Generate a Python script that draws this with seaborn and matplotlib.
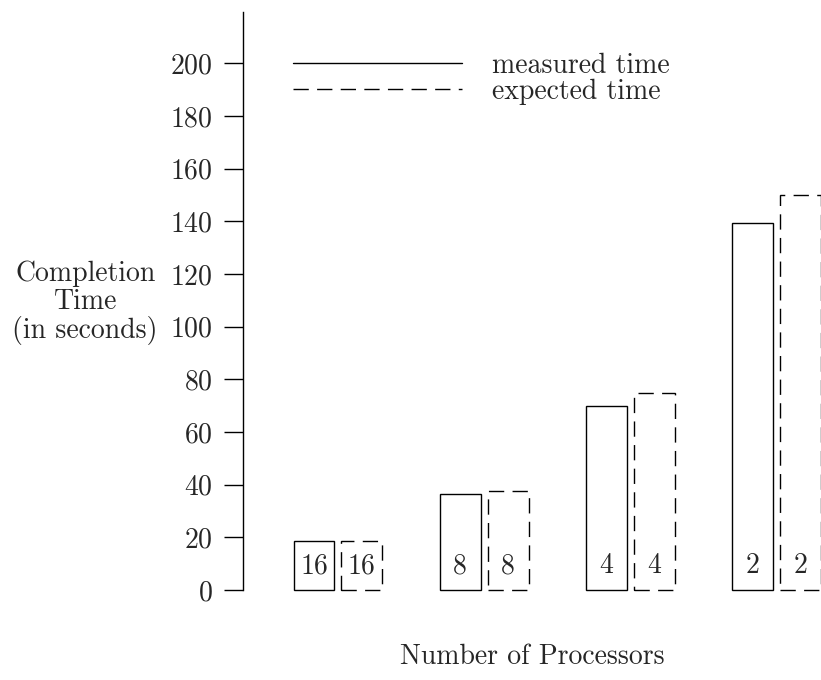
import matplotlib
matplotlib.use("Agg")
import matplotlib.pyplot as plt
import pandas as pd
import seaborn as sns
from matplotlib.lines import Line2D

# Data
processors = ["16", "8", "4", "2"]
measured_time = [18.5, 36.5, 70, 139.5]
expected_time = [18.5, 37.5, 75, 150]
series_names = ["measured time", "expected time"]

df = pd.DataFrame({
    "Processors": processors * 2,
    "Time": measured_time + expected_time,
    "Kind": [series_names[0]] * len(processors) + [series_names[1]] * len(processors),
})

sns.set_style("white")
plt.rcParams["font.family"] = ["cmr10", "DejaVu Serif"]
plt.rcParams["axes.formatter.use_mathtext"] = True

dash = (0, (11, 6))

fig = plt.figure(figsize=(8.21, 6.8), dpi=100)
ax = fig.add_axes([243 / 821, 1 - 590 / 680, 1 - 243 / 821, 578 / 680])

sns.barplot(data=df, x="Processors", y="Time", hue="Kind", order=processors,
            hue_order=series_names, palette=["black", "black"], fill=False,
            width=0.656, gap=0.146, linewidth=1, ax=ax, legend=False)

for bar in ax.containers[1]:
    bar.set_linestyle(dash)

# processor count written at the foot of each bar
for container in ax.containers:
    for p, lab in zip(container, processors):
        ax.text(p.get_x() + p.get_width() / 2, 9, lab, ha="center", va="center", fontsize=20)

for p in ax.patches:
    p.set_clip_on(False)

ax.set_xlim(-0.65, 3.305)
ax.set_ylim(0, 219.5)
ax.set_yticks(range(0, 201, 20))
ax.set_xticks([])
ax.tick_params(axis="y", direction="out", length=14, width=1, pad=8, labelsize=20, left=True, color="black")

for s in ["top", "right", "bottom"]:
    ax.spines[s].set_visible(False)
ax.spines["left"].set_color("black")
ax.spines["left"].set_linewidth(1)

ax.set_ylabel("Completion\nTime\n(in seconds)", rotation=0, fontsize=20, ha="center", va="center", linespacing=1.08)
ax.yaxis.set_label_coords(-0.273, 0.497)
ax.set_xlabel("Number of Processors", fontsize=20, va="center")
ax.xaxis.set_label_coords(0.5, -0.116)

handles = [Line2D([], [], color="black", lw=1),
           Line2D([], [], color="black", lw=1, linestyle=dash)]
ax.legend(handles, series_names, loc="upper left", bbox_to_anchor=(0.0865, 0.930),
          frameon=False, fontsize=20, handlelength=6.1, handletextpad=1.05,
          labelspacing=0.0, borderpad=0, borderaxespad=0)

fig.savefig("out.png", dpi=100)
